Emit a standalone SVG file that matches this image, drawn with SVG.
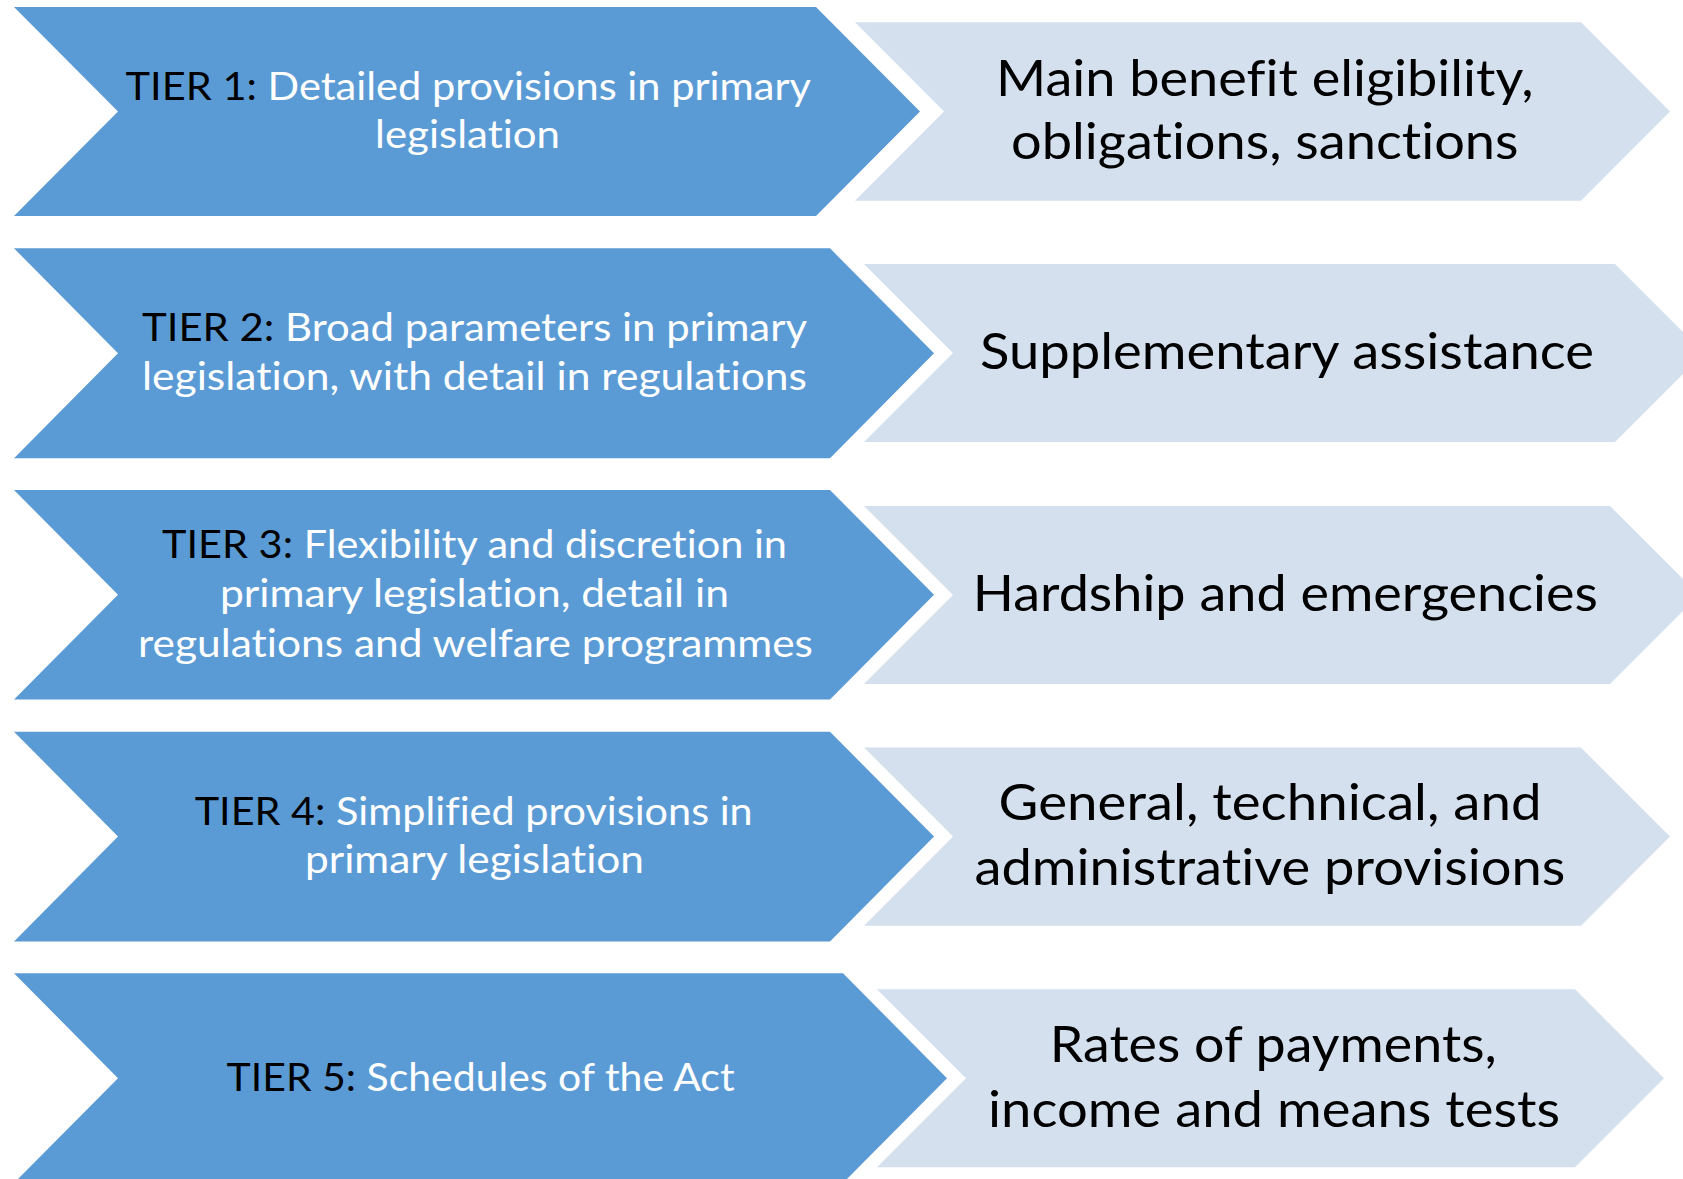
<svg xmlns="http://www.w3.org/2000/svg" width="1683" height="1179" viewBox="0 0 1683 1179">
<style>
.dark{fill:#5B9BD5}
.light{fill:#D5E0EF}
text{font-variant-ligatures:none}
.lt{font-family:Lato,"Liberation Sans",sans-serif;font-size:38px;fill:#FFFFFF}
.rt{font-family:Lato,"Liberation Sans",sans-serif;font-size:51px;fill:#000000}
.k{fill:#000000}
</style>
<rect width="1683" height="1179" fill="#FFFFFF"/>
<g id="tier1">
<polygon class="dark" points="14,7 816,7 920,111.5 816,216 14,216 118,111.5"/>
<text class="lt" x="125.5" y="100" textLength="685.5" lengthAdjust="spacingAndGlyphs"><tspan class="k">TIER 1:</tspan> Detailed provisions in primary</text>
<text class="lt" x="375" y="148.3" textLength="185" lengthAdjust="spacingAndGlyphs">legislation</text>
</g>
<g id="area1">
<polygon class="light" points="855,22.3 1581,22.3 1670,111.5 1581,200.7 855,200.7 944,111.5"/>
<text class="rt" x="996" y="95.7" textLength="537.5" lengthAdjust="spacingAndGlyphs">Main benefit eligibility,</text>
<text class="rt" x="1011" y="159.3" textLength="507.5" lengthAdjust="spacingAndGlyphs">obligations, sanctions</text>
</g>
<g id="tier2">
<polygon class="dark" points="14,248.3 830,248.3 934,353.3 830,458.3 14,458.3 118,353.3"/>
<text class="lt" x="142" y="341" textLength="665" lengthAdjust="spacingAndGlyphs"><tspan class="k">TIER 2:</tspan> Broad parameters in primary</text>
<text class="lt" x="142" y="390" textLength="665" lengthAdjust="spacingAndGlyphs">legislation, with detail in regulations</text>
</g>
<g id="area2">
<polygon class="light" points="864,264 1615,264 1704,353 1615,442 864,442 953,353"/>
<text class="rt" x="980" y="369.3" textLength="614" lengthAdjust="spacingAndGlyphs">Supplementary assistance</text>
</g>
<g id="tier3">
<polygon class="dark" points="14,490 830,490 934,594.7 830,699.5 14,699.5 118,594.7"/>
<text class="lt" x="162" y="557.7" textLength="625" lengthAdjust="spacingAndGlyphs"><tspan class="k">TIER 3:</tspan> Flexibility and discretion in</text>
<text class="lt" x="220" y="606.7" textLength="509" lengthAdjust="spacingAndGlyphs">primary legislation, detail in</text>
<text class="lt" x="138" y="656.7" textLength="675" lengthAdjust="spacingAndGlyphs">regulations and welfare programmes</text>
</g>
<g id="area3">
<polygon class="light" points="864,506 1610,506 1699,595 1610,684 864,684 953,595"/>
<text class="rt" x="972.8" y="611" textLength="625" lengthAdjust="spacingAndGlyphs">Hardship and emergencies</text>
</g>
<g id="tier4">
<polygon class="dark" points="14,731.7 830,731.7 934,836.6 830,941.5 14,941.5 118,836.6"/>
<text class="lt" x="194.7" y="825" textLength="558" lengthAdjust="spacingAndGlyphs"><tspan class="k">TIER 4:</tspan> Simplified provisions in</text>
<text class="lt" x="305" y="873.3" textLength="339" lengthAdjust="spacingAndGlyphs">primary legislation</text>
</g>
<g id="area4">
<polygon class="light" points="864,747.5 1581,747.5 1670,836.6 1581,925.7 864,925.7 953,836.6"/>
<text class="rt" x="998.6" y="820" textLength="543" lengthAdjust="spacingAndGlyphs">General, technical, and</text>
<text class="rt" x="974.4" y="885" textLength="591" lengthAdjust="spacingAndGlyphs">administrative provisions</text>
</g>
<g id="tier5">
<polygon class="dark" points="14,973.3 843,973.3 947,1078.2 843,1183 14,1183 118,1078.2"/>
<text class="lt" x="226.6" y="1090.7" textLength="508" lengthAdjust="spacingAndGlyphs"><tspan class="k">TIER 5:</tspan> Schedules of the Act</text>
</g>
<g id="area5">
<polygon class="light" points="877,989.3 1575,989.3 1664,1078.3 1575,1167.3 877,1167.3 966,1078.3"/>
<text class="rt" x="1049.7" y="1061.7" textLength="447" lengthAdjust="spacingAndGlyphs">Rates of payments,</text>
<text class="rt" x="988" y="1126.7" textLength="572" lengthAdjust="spacingAndGlyphs">income and means tests</text>
</g>
</svg>
